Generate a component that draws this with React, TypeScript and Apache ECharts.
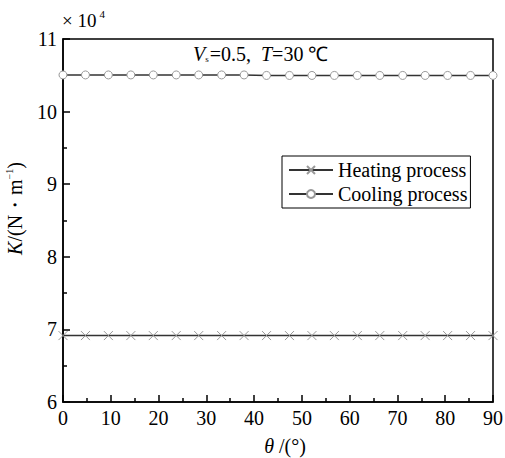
import React, { useEffect, useRef } from "react";
import * as echarts from "echarts";

const theta = [0, 4.7, 9.5, 14.2, 18.9, 23.7, 28.4, 33.2, 37.9, 42.6, 47.4, 52.1, 56.8, 61.6, 66.3, 71.1, 75.8, 80.5, 85.3, 90];
const heating = [69150, 69150, 69150, 69150, 69150, 69150, 69150, 69150, 69150, 69150, 69150, 69150, 69150, 69150, 69150, 69150, 69150, 69150, 69150, 69150];
const cooling = [105050, 105050, 105050, 105050, 105050, 105050, 105050, 105050, 105050, 104980, 104980, 104980, 104980, 104980, 104980, 104980, 104980, 104980, 104980, 104980];
const seriesNames = ["Heating process", "Cooling process"];
const xTicks = { min: 0, max: 90, interval: 10 };
const yTicks = { min: 60000, max: 110000, interval: 10000 };

const FONT = "'Liberation Serif', 'Times New Roman', serif";

export default function App() {
  const ref = useRef<HTMLDivElement>(null);
  useEffect(() => {
    if (!ref.current) return;
    const chart = echarts.init(ref.current, null, { renderer: "svg" });
    const pair = (ys: number[]) => theta.map((t, i) => [t, ys[i]]);
    chart.setOption({
      animation: false,
      backgroundColor: "#fff",
      textStyle: { fontFamily: FONT, color: "#000" },
      grid: {
        left: 63, right: 12, top: 39, bottom: 56,
        containLabel: false, outerBoundsMode: "none",
        show: true, borderColor: "#000", borderWidth: 1.5, backgroundColor: "transparent",
      },
      legend: {
        orient: "vertical",
        left: 282,
        top: 156,
        data: seriesNames,
        borderColor: "#000",
        borderWidth: 1,
        padding: [4, 3, 4, 6],
        itemGap: 4,
        itemWidth: 44,
        itemHeight: 10,
        textStyle: { fontFamily: FONT, fontSize: 20, color: "#000", lineHeight: 20 },
      },
      graphic: [
        {
          type: "text",
          left: 62,
          top: 8,
          style: {
            text: "{n|× 10}{s|4}",
            rich: {
              n: { fontFamily: FONT, fontSize: 19, fill: "#000", lineHeight: 22, verticalAlign: "bottom" },
              s: { fontFamily: FONT, fontSize: 11, fill: "#000", lineHeight: 22, verticalAlign: "top", padding: [0, 0, 10, 3] },
            },
          },
        },
        {
          type: "text",
          left: 193,
          top: 44,
          style: {
            text: "{i|V}{sub|s}{n|=0.5,  }{i|T}{n|=30 ℃}",
            rich: {
              i: { fontFamily: FONT, fontStyle: "italic", fontSize: 20, fill: "#000", lineHeight: 22 },
              n: { fontFamily: FONT, fontSize: 20, fill: "#000", lineHeight: 22 },
              sub: { fontFamily: FONT, fontSize: 9, fill: "#000", lineHeight: 22, padding: [10, 1, 0, 0] },
            },
          },
        },
      ],
      xAxis: {
        type: "value",
        min: xTicks.min,
        max: xTicks.max,
        interval: xTicks.interval,
        name: "{i|θ}{n| /(°)}",
        nameLocation: "middle",
        nameGap: 34,
        nameTextStyle: {
          padding: [0, 0, 0, 14],
          rich: {
            i: { fontFamily: FONT, fontStyle: "italic", fontSize: 20, color: "#000" },
            n: { fontFamily: FONT, fontSize: 20, color: "#000" },
          },
        },
        axisLine: { show: true, lineStyle: { color: "#000", width: 1.5 } },
        axisTick: { show: true, inside: true, length: 7, lineStyle: { color: "#000", width: 1.5 } },
        minorTick: { show: true, splitNumber: 2, length: 4, lineStyle: { color: "#000", width: 1.5 } },
        splitLine: { show: false },
        axisLabel: { fontFamily: FONT, fontSize: 20, color: "#000", margin: 6 },
      },
      yAxis: {
        type: "value",
        min: yTicks.min,
        max: yTicks.max,
        interval: yTicks.interval,
        name: "{i|K}{n|/(N・m}{sup|−1}{n|)}",
        nameLocation: "middle",
        nameGap: 36,
        nameRotate: 90,
        nameTextStyle: {
          padding: [0, 0, 0, 24],
          rich: {
            i: { fontFamily: FONT, fontStyle: "italic", fontSize: 20, color: "#000", lineHeight: 22 },
            n: { fontFamily: FONT, fontSize: 20, color: "#000", lineHeight: 22 },
            sup: { fontFamily: FONT, fontSize: 10, color: "#000", lineHeight: 22, padding: [0, 0, 12, 0] },
          },
        },
        axisLine: { show: true, lineStyle: { color: "#000", width: 1.5 } },
        axisTick: { show: true, inside: true, length: 7, lineStyle: { color: "#000", width: 1.5 } },
        minorTick: { show: true, splitNumber: 2, length: 4, lineStyle: { color: "#000", width: 1.5 } },
        splitLine: { show: false },
        axisLabel: { fontFamily: FONT, fontSize: 20, color: "#000", margin: 6, formatter: (v: number) => String(v / 10000) },
      },
      series: [
        {
          name: seriesNames[0],
          type: "line",
          data: pair(heating),
          symbol: "path://M0,0L10,10M0,10L10,0",
          symbolSize: 9,
          lineStyle: { color: "#333", width: 1.6 },
          itemStyle: { color: "transparent", borderColor: "#999", borderWidth: 1 },
        },
        {
          name: seriesNames[1],
          type: "line",
          data: pair(cooling),
          symbol: "circle",
          symbolSize: 8,
          lineStyle: { color: "#333", width: 1.6 },
          itemStyle: { color: "#fff", borderColor: "#999", borderWidth: 1 },
        },
      ],
    });
    return () => chart.dispose();
  }, []);
  return <div ref={ref} style={{ position: "fixed", left: 0, top: 0, width: 505, height: 458 }} />;
}
